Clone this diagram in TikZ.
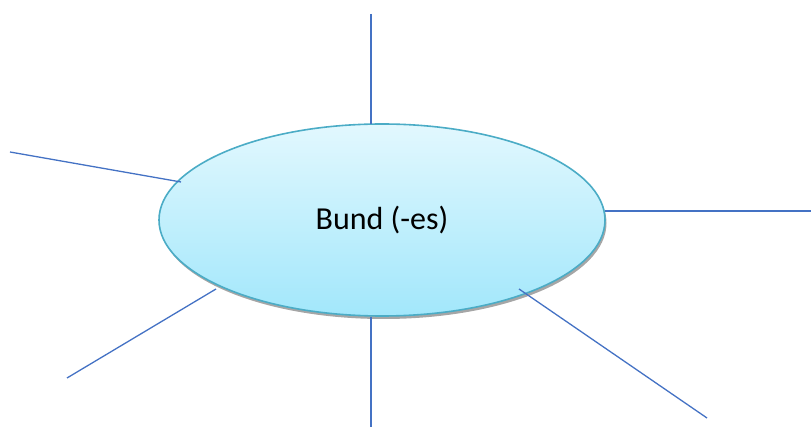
\documentclass[tikz,border=0pt]{standalone}
\usepackage{fontspec}
\setmainfont{Carlito}
\usetikzlibrary{shapes.geometric}
\definecolor{rimc}{HTML}{4BACC6}
\definecolor{linec}{HTML}{4472C4}
\definecolor{topc}{HTML}{E2F8FE}
\definecolor{botc}{HTML}{A2E7FB}
\tikzset{
  spoke/.style={draw=linec, line width=1.3pt},
  hub/.style={ellipse, minimum width=446pt, minimum height=192pt, inner sep=0pt,
    top color=topc, bottom color=botc, draw=rimc, line width=1.6pt,
    font=\fontsize{32}{38}\selectfont}
}
\begin{document}
\begin{tikzpicture}[x=1pt,y=-1pt]
\useasboundingbox (0,0) rectangle (811,427);
\fill[gray!70] (383.5,223) ellipse [x radius=223, y radius=96];
\node[hub] (h) at (382,220) {Bund (-es)};
\coordinate (t1) at (371,14);
\coordinate (t2) at (10,152);
\coordinate (t3) at (811,211);
\coordinate (t4) at (67,378);
\coordinate (t5) at (371,427);
\coordinate (t6) at (707,418);
\coordinate (a1) at (371,124);
\coordinate (a2) at (181,182);
\coordinate (a3) at (605,211);
\coordinate (a4) at (216,289);
\coordinate (a5) at (371,317);
\coordinate (a6) at (519,289);
\draw[spoke] (t1) -- (a1);
\draw[spoke] (t2) -- (a2);
\draw[spoke] (t3) -- (a3);
\draw[spoke] (t4) -- (a4);
\draw[spoke] (t5) -- (a5);
\draw[spoke] (t6) -- (a6);
\end{tikzpicture}
\end{document}
